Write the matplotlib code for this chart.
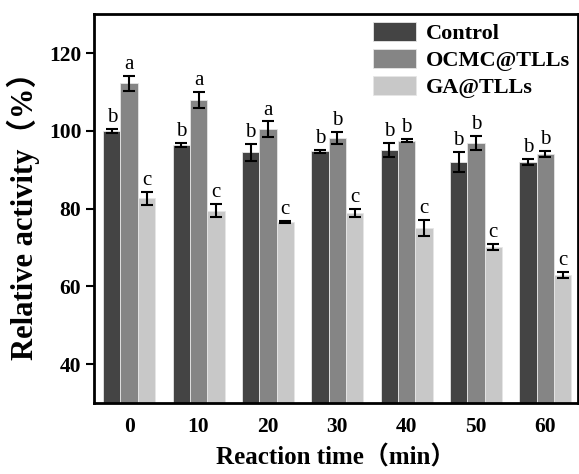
import numpy as np
import matplotlib
matplotlib.use("Agg")
import matplotlib.pyplot as plt

times = ["0", "10", "20", "30", "40", "50", "60"]
series = ["Control", "OCMC@TLLs", "GA@TLLs"]
control = [100.0, 96.3, 94.5, 94.7, 95.0, 92.0, 91.9]
ocmc = [112.2, 107.9, 100.4, 98.2, 97.4, 96.8, 94.0]
ga = [82.6, 79.5, 76.5, 78.8, 75.0, 70.2, 62.9]
control_err = [0.5, 0.5, 2.2, 0.4, 1.8, 2.5, 0.8]
ocmc_err = [2.0, 2.0, 2.0, 1.5, 0.4, 1.8, 0.8]
ga_err = [1.7, 1.7, 0.2, 1.0, 2.0, 0.8, 0.8]
control_sig = ["b"] * 7
ocmc_sig = ["a", "a", "a", "b", "b", "b", "b"]
ga_sig = ["c"] * 7

colors = ["#444444", "#858585", "#c8c8c8"]
serif = ["Liberation Serif", "Noto Sans CJK SC"]
plt.rcParams["font.family"] = serif

fig = plt.figure(figsize=(5.79, 4.74), dpi=100)
ax = fig.add_axes([0.162, 0.150, 0.836, 0.820])

x = np.arange(len(times))
w = 0.25
data = [(control, control_err, control_sig),
        (ocmc, ocmc_err, ocmc_sig),
        (ga, ga_err, ga_sig)]
for i, (vals, errs, sig) in enumerate(data):
    pos = x + (i - 1) * w
    ax.bar(pos, vals, w, color=colors[i], edgecolor="#e6e6e6", linewidth=0.6,
           label=series[i], zorder=2)
    ax.errorbar(pos, vals, yerr=errs, fmt="none", ecolor="black",
                elinewidth=1.5, capsize=4, capthick=1.5, zorder=3)
    for p, v, e, s in zip(pos, vals, errs, sig):
        ax.text(p, v + e + 0.5, s, ha="center", va="bottom", fontsize=15,
                family="Liberation Serif")

ax.set_xlim(-0.51, 6.47)
ax.set_ylim(30, 130)
ax.set_yticks([40, 60, 80, 100, 120])
ax.set_xticks(x)
ax.set_xticklabels(times)
ax.tick_params(axis="x", length=0, pad=10)
ax.tick_params(axis="y", length=6, width=1.5, direction="out", pad=3)
for lab in ax.get_xticklabels() + ax.get_yticklabels():
    lab.set_fontsize(15.5)
    lab.set_fontweight("bold")
for sp in ax.spines.values():
    sp.set_linewidth(2)

ax.set_ylabel("Relative activity（%）", fontsize=22, fontweight="bold", labelpad=6)
ax.set_xlabel("Reaction time（min）", fontsize=18, fontweight="bold", labelpad=6)

leg = ax.legend(loc="upper right", frameon=False, prop={"family": "Liberation Serif",
                "weight": "bold", "size": 16}, handlelength=1.95, handleheight=0.95,
                labelspacing=0.22, borderaxespad=0.15, borderpad=0.2,
                handletextpad=0.45)

fig.savefig("out.png", dpi=100)
